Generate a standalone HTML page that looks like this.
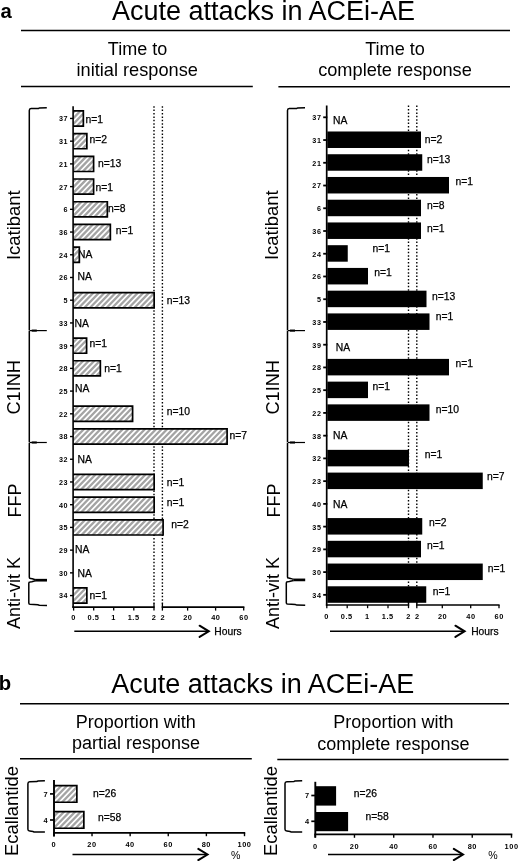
<!DOCTYPE html>
<html lang="en"><head><meta charset="utf-8"><title>Acute attacks in ACEi-AE</title>
<style>html,body{margin:0;padding:0;background:#fff;}body{width:519px;height:861px;overflow:hidden;}svg{display:block;}text{font-family:'Liberation Sans', Arial, sans-serif;fill:#000;}</style>
</head><body>
<svg width="519" height="861" viewBox="0 0 519 861">
<rect width="519" height="861" fill="#fff"/>
<text x="0.4" y="17.7" font-size="20.3" font-weight="bold" text-anchor="start" >a</text>
<text x="263.5" y="19.8" font-size="27" font-weight="normal" text-anchor="middle" >Acute attacks in ACEi-AE</text>
<line x1="21" y1="30.6" x2="510" y2="30.6" stroke="#000" stroke-width="1.5"/>
<text x="137.5" y="54.6" font-size="18" font-weight="normal" text-anchor="middle" >Time to</text>
<text x="137.2" y="76.3" font-size="18.2" font-weight="normal" text-anchor="middle" >initial response</text>
<text x="395" y="54.7" font-size="18.1" font-weight="normal" text-anchor="middle" >Time to</text>
<text x="395" y="76.2" font-size="18.2" font-weight="normal" text-anchor="middle" >complete response</text>
<line x1="21" y1="86.5" x2="252.8" y2="86.5" stroke="#000" stroke-width="1.5"/>
<line x1="278.4" y1="86.8" x2="510" y2="86.8" stroke="#000" stroke-width="1.5"/>
<path d="M46.8,107.7 L39.5,107.9 L38.5,108.4 L31.1,108.60000000000001 Q29.3,108.7 29.3,110.5 L29.3,577.2 Q29.3,578.3000000000001 30.5,578.4000000000001 L32.3,578.7 L35.3,579.7" fill="none" stroke="#000" stroke-width="1.5"/>
<line x1="29.3" y1="330.6" x2="46.8" y2="330.6" stroke="#000" stroke-width="1.2"/>
<line x1="31.7" y1="330.6" x2="36.8" y2="330.6" stroke="#000" stroke-width="2.1"/>
<polygon points="28.400000000000002,329.90000000000003 29.900000000000002,330.6 28.400000000000002,331.3" fill="#fff"/>
<line x1="29.3" y1="442.5" x2="46.8" y2="442.5" stroke="#000" stroke-width="1.2"/>
<line x1="31.7" y1="442.5" x2="36.8" y2="442.5" stroke="#000" stroke-width="2.1"/>
<polygon points="28.400000000000002,441.8 29.900000000000002,442.5 28.400000000000002,443.2" fill="#fff"/>
<line x1="35.1" y1="580.2" x2="47.0" y2="580.2" stroke="#000" stroke-width="2.7"/>
<path d="M35.3,580.8000000000001 L31.8,581.7 L30.0,582.0 Q28.8,582.1 28.8,583.2 L28.8,603.0 Q28.8,604.2 30.0,604.3 L37.8,604.7 L39.3,605.3 L47.0,605.4" fill="none" stroke="#000" stroke-width="1.5"/>
<path d="M305,107.7 L297.7,107.9 L296.7,108.4 L289.3,108.60000000000001 Q287.5,108.7 287.5,110.5 L287.5,576.9 Q287.5,578.0 288.7,578.1 L290.5,578.4 L293.5,579.4" fill="none" stroke="#000" stroke-width="1.5"/>
<line x1="287.5" y1="330.6" x2="305" y2="330.6" stroke="#000" stroke-width="1.2"/>
<line x1="289.9" y1="330.6" x2="295.0" y2="330.6" stroke="#000" stroke-width="2.1"/>
<polygon points="286.6,329.90000000000003 288.1,330.6 286.6,331.3" fill="#fff"/>
<line x1="287.5" y1="442.5" x2="305" y2="442.5" stroke="#000" stroke-width="1.2"/>
<line x1="289.9" y1="442.5" x2="295.0" y2="442.5" stroke="#000" stroke-width="2.1"/>
<polygon points="286.6,441.8 288.1,442.5 286.6,443.2" fill="#fff"/>
<line x1="293.3" y1="579.9" x2="305.2" y2="579.9" stroke="#000" stroke-width="2.7"/>
<path d="M293.5,580.5 L289.3,581.4 L287.5,581.6999999999999 Q286.3,581.8 286.3,582.9 L286.3,602.8 Q286.3,604.0 287.5,604.0999999999999 L295.3,604.5 L296.8,605.0999999999999 L305.2,605.1999999999999" fill="none" stroke="#000" stroke-width="1.5"/>
<text transform="translate(19.8,260.0) rotate(-90)" font-size="18.4" text-anchor="start">Icatibant</text>
<text transform="translate(19.9,414.6) rotate(-90)" font-size="18.2" text-anchor="start">C1INH</text>
<text transform="translate(21.2,517.6) rotate(-90)" font-size="18" text-anchor="start">FFP</text>
<text transform="translate(19.9,629.0) rotate(-90)" font-size="18" text-anchor="start">Anti-vit K</text>
<text transform="translate(278.1,260.0) rotate(-90)" font-size="18.4" text-anchor="start">Icatibant</text>
<text transform="translate(278.8,414.6) rotate(-90)" font-size="18.2" text-anchor="start">C1INH</text>
<text transform="translate(279.5,517.6) rotate(-90)" font-size="18" text-anchor="start">FFP</text>
<text transform="translate(278.8,629.0) rotate(-90)" font-size="18" text-anchor="start">Anti-vit K</text>
<line x1="154" y1="106.2" x2="154" y2="606" stroke="#000" stroke-width="1.4" stroke-dasharray="1.5 1.9"/>
<line x1="162.4" y1="106.2" x2="162.4" y2="606" stroke="#000" stroke-width="1.4" stroke-dasharray="1.5 1.9"/>
<rect x="73.1" y="110.85" width="10.25" height="15.2" fill="#fff" stroke="none" stroke-width="1.5" class="hb"/>
<line x1="70" y1="118.45" x2="73.1" y2="118.45" stroke="#000" stroke-width="1.4"/>
<text x="68.05" y="121.35000000000001" font-size="7.2" font-weight="bold" text-anchor="end" letter-spacing="0.55">37</text>
<rect x="73.1" y="133.57" width="13.75" height="15.2" fill="#fff" stroke="none" stroke-width="1.5" class="hb"/>
<line x1="70" y1="141.17000000000002" x2="73.1" y2="141.17000000000002" stroke="#000" stroke-width="1.4"/>
<text x="68.05" y="144.07000000000002" font-size="7.2" font-weight="bold" text-anchor="end" letter-spacing="0.55">31</text>
<rect x="73.1" y="156.29" width="20.50" height="15.2" fill="#fff" stroke="none" stroke-width="1.5" class="hb"/>
<line x1="70" y1="163.89" x2="73.1" y2="163.89" stroke="#000" stroke-width="1.4"/>
<text x="68.05" y="166.79" font-size="7.2" font-weight="bold" text-anchor="end" letter-spacing="0.55">21</text>
<rect x="73.1" y="179.01" width="20.50" height="15.2" fill="#fff" stroke="none" stroke-width="1.5" class="hb"/>
<line x1="70" y1="186.61" x2="73.1" y2="186.61" stroke="#000" stroke-width="1.4"/>
<text x="68.05" y="189.51000000000002" font-size="7.2" font-weight="bold" text-anchor="end" letter-spacing="0.55">27</text>
<rect x="73.1" y="201.73" width="34.25" height="15.2" fill="#fff" stroke="none" stroke-width="1.5" class="hb"/>
<line x1="70" y1="209.32999999999998" x2="73.1" y2="209.32999999999998" stroke="#000" stroke-width="1.4"/>
<text x="68.05" y="212.23" font-size="7.2" font-weight="bold" text-anchor="end" letter-spacing="0.55">6</text>
<rect x="73.1" y="224.45" width="37.25" height="15.2" fill="#fff" stroke="none" stroke-width="1.5" class="hb"/>
<line x1="70" y1="232.05" x2="73.1" y2="232.05" stroke="#000" stroke-width="1.4"/>
<text x="68.05" y="234.95000000000002" font-size="7.2" font-weight="bold" text-anchor="end" letter-spacing="0.55">36</text>
<rect x="73.1" y="247.17" width="6.25" height="15.2" fill="#fff" stroke="none" stroke-width="1.5" class="hb"/>
<line x1="70" y1="254.76999999999998" x2="73.1" y2="254.76999999999998" stroke="#000" stroke-width="1.4"/>
<text x="68.05" y="257.66999999999996" font-size="7.2" font-weight="bold" text-anchor="end" letter-spacing="0.55">24</text>
<line x1="70" y1="277.49" x2="73.1" y2="277.49" stroke="#000" stroke-width="1.4"/>
<text x="68.05" y="280.39" font-size="7.2" font-weight="bold" text-anchor="end" letter-spacing="0.55">26</text>
<rect x="73.1" y="292.61" width="81.05" height="15.2" fill="#fff" stroke="none" stroke-width="1.5" class="hb"/>
<line x1="70" y1="300.21" x2="73.1" y2="300.21" stroke="#000" stroke-width="1.4"/>
<text x="68.05" y="303.10999999999996" font-size="7.2" font-weight="bold" text-anchor="end" letter-spacing="0.55">5</text>
<line x1="70" y1="322.93" x2="73.1" y2="322.93" stroke="#000" stroke-width="1.4"/>
<text x="68.05" y="325.83" font-size="7.2" font-weight="bold" text-anchor="end" letter-spacing="0.55">33</text>
<rect x="73.1" y="338.05" width="13.50" height="15.2" fill="#fff" stroke="none" stroke-width="1.5" class="hb"/>
<line x1="70" y1="345.65" x2="73.1" y2="345.65" stroke="#000" stroke-width="1.4"/>
<text x="68.05" y="348.54999999999995" font-size="7.2" font-weight="bold" text-anchor="end" letter-spacing="0.55">39</text>
<rect x="73.1" y="360.77" width="27.25" height="15.2" fill="#fff" stroke="none" stroke-width="1.5" class="hb"/>
<line x1="70" y1="368.37" x2="73.1" y2="368.37" stroke="#000" stroke-width="1.4"/>
<text x="68.05" y="371.27" font-size="7.2" font-weight="bold" text-anchor="end" letter-spacing="0.55">28</text>
<line x1="70" y1="391.09" x2="73.1" y2="391.09" stroke="#000" stroke-width="1.4"/>
<text x="68.05" y="393.98999999999995" font-size="7.2" font-weight="bold" text-anchor="end" letter-spacing="0.55">25</text>
<rect x="73.1" y="406.21" width="59.50" height="15.2" fill="#fff" stroke="none" stroke-width="1.5" class="hb"/>
<line x1="70" y1="413.81" x2="73.1" y2="413.81" stroke="#000" stroke-width="1.4"/>
<text x="68.05" y="416.71" font-size="7.2" font-weight="bold" text-anchor="end" letter-spacing="0.55">22</text>
<rect x="73.1" y="428.93" width="154.00" height="15.2" fill="#fff" stroke="none" stroke-width="1.5" class="hb"/>
<line x1="70" y1="436.53" x2="73.1" y2="436.53" stroke="#000" stroke-width="1.4"/>
<text x="68.05" y="439.42999999999995" font-size="7.2" font-weight="bold" text-anchor="end" letter-spacing="0.55">38</text>
<line x1="70" y1="459.24999999999994" x2="73.1" y2="459.24999999999994" stroke="#000" stroke-width="1.4"/>
<text x="68.05" y="462.1499999999999" font-size="7.2" font-weight="bold" text-anchor="end" letter-spacing="0.55">32</text>
<rect x="73.1" y="474.37" width="81.05" height="15.2" fill="#fff" stroke="none" stroke-width="1.5" class="hb"/>
<line x1="70" y1="481.96999999999997" x2="73.1" y2="481.96999999999997" stroke="#000" stroke-width="1.4"/>
<text x="68.05" y="484.86999999999995" font-size="7.2" font-weight="bold" text-anchor="end" letter-spacing="0.55">23</text>
<rect x="73.1" y="497.09" width="81.05" height="15.2" fill="#fff" stroke="none" stroke-width="1.5" class="hb"/>
<line x1="70" y1="504.69" x2="73.1" y2="504.69" stroke="#000" stroke-width="1.4"/>
<text x="68.05" y="507.59" font-size="7.2" font-weight="bold" text-anchor="end" letter-spacing="0.55">40</text>
<rect x="73.1" y="519.81" width="90.00" height="15.2" fill="#fff" stroke="none" stroke-width="1.5" class="hb"/>
<line x1="70" y1="527.41" x2="73.1" y2="527.41" stroke="#000" stroke-width="1.4"/>
<text x="68.05" y="530.31" font-size="7.2" font-weight="bold" text-anchor="end" letter-spacing="0.55">35</text>
<line x1="70" y1="550.13" x2="73.1" y2="550.13" stroke="#000" stroke-width="1.4"/>
<text x="68.05" y="553.03" font-size="7.2" font-weight="bold" text-anchor="end" letter-spacing="0.55">29</text>
<line x1="70" y1="572.85" x2="73.1" y2="572.85" stroke="#000" stroke-width="1.4"/>
<text x="68.05" y="575.75" font-size="7.2" font-weight="bold" text-anchor="end" letter-spacing="0.55">30</text>
<rect x="73.1" y="587.97" width="13.75" height="15.2" fill="#fff" stroke="none" stroke-width="1.5" class="hb"/>
<line x1="70" y1="595.57" x2="73.1" y2="595.57" stroke="#000" stroke-width="1.4"/>
<text x="68.05" y="598.47" font-size="7.2" font-weight="bold" text-anchor="end" letter-spacing="0.55">34</text>
<text x="85.5" y="123.4" font-size="10.35" font-weight="normal" text-anchor="start" stroke="#000" stroke-width="0.25">n=1</text>
<text x="89.5" y="142.9" font-size="10.35" font-weight="normal" text-anchor="start" stroke="#000" stroke-width="0.25">n=2</text>
<text x="98" y="166.65" font-size="10.35" font-weight="normal" text-anchor="start" stroke="#000" stroke-width="0.25">n=13</text>
<text x="95.5" y="190.9" font-size="10.35" font-weight="normal" text-anchor="start" stroke="#000" stroke-width="0.25">n=1</text>
<text x="108" y="211.65" font-size="10.35" font-weight="normal" text-anchor="start" stroke="#000" stroke-width="0.25">n=8</text>
<text x="115.75" y="234.15" font-size="10.35" font-weight="normal" text-anchor="start" stroke="#000" stroke-width="0.25">n=1</text>
<text x="78" y="258.4" font-size="10.35" font-weight="normal" text-anchor="start" stroke="#000" stroke-width="0.25">NA</text>
<text x="77.5" y="280.4" font-size="10.35" font-weight="normal" text-anchor="start" stroke="#000" stroke-width="0.25">NA</text>
<text x="166.75" y="303.65" font-size="10.35" font-weight="normal" text-anchor="start" stroke="#000" stroke-width="0.25">n=13</text>
<text x="74.5" y="327.4" font-size="10.35" font-weight="normal" text-anchor="start" stroke="#000" stroke-width="0.25">NA</text>
<text x="89.5" y="347.4" font-size="10.35" font-weight="normal" text-anchor="start" stroke="#000" stroke-width="0.25">n=1</text>
<text x="104.25" y="371.65" font-size="10.35" font-weight="normal" text-anchor="start" stroke="#000" stroke-width="0.25">n=1</text>
<text x="75" y="391.65" font-size="10.35" font-weight="normal" text-anchor="start" stroke="#000" stroke-width="0.25">NA</text>
<text x="166.75" y="415.4" font-size="10.35" font-weight="normal" text-anchor="start" stroke="#000" stroke-width="0.25">n=10</text>
<text x="229.5" y="439.15" font-size="10.35" font-weight="normal" text-anchor="start" stroke="#000" stroke-width="0.25">n=7</text>
<text x="77.5" y="462.9" font-size="10.35" font-weight="normal" text-anchor="start" stroke="#000" stroke-width="0.25">NA</text>
<text x="166.75" y="485.9" font-size="10.35" font-weight="normal" text-anchor="start" stroke="#000" stroke-width="0.25">n=1</text>
<text x="166.75" y="505.9" font-size="10.35" font-weight="normal" text-anchor="start" stroke="#000" stroke-width="0.25">n=1</text>
<text x="171.25" y="528.4" font-size="10.35" font-weight="normal" text-anchor="start" stroke="#000" stroke-width="0.25">n=2</text>
<text x="75" y="553.4" font-size="10.35" font-weight="normal" text-anchor="start" stroke="#000" stroke-width="0.25">NA</text>
<text x="77.5" y="576.65" font-size="10.35" font-weight="normal" text-anchor="start" stroke="#000" stroke-width="0.25">NA</text>
<text x="89.5" y="598.65" font-size="10.35" font-weight="normal" text-anchor="start" stroke="#000" stroke-width="0.25">n=1</text>
<line x1="72.25" y1="607.2" x2="154.6" y2="607.2" stroke="#000" stroke-width="1.7"/>
<line x1="161.7" y1="607.2" x2="244.4" y2="607.2" stroke="#000" stroke-width="1.7"/>
<line x1="73.6" y1="607.2" x2="73.6" y2="610.6" stroke="#000" stroke-width="1.3"/>
<line x1="93.7" y1="607.2" x2="93.7" y2="610.6" stroke="#000" stroke-width="1.3"/>
<line x1="113.7" y1="607.2" x2="113.7" y2="610.6" stroke="#000" stroke-width="1.3"/>
<line x1="133.8" y1="607.2" x2="133.8" y2="610.6" stroke="#000" stroke-width="1.3"/>
<line x1="154" y1="603.5" x2="154" y2="610.6" stroke="#000" stroke-width="1.3"/>
<line x1="162.4" y1="603.5" x2="162.4" y2="610.6" stroke="#000" stroke-width="1.3"/>
<line x1="187.6" y1="607.2" x2="187.6" y2="610.6" stroke="#000" stroke-width="1.3"/>
<line x1="215.6" y1="607.2" x2="215.6" y2="610.6" stroke="#000" stroke-width="1.3"/>
<line x1="243.7" y1="607.2" x2="243.7" y2="610.6" stroke="#000" stroke-width="1.3"/>
<text x="73.47500000000001" y="619.9" font-size="7.4" font-weight="bold" text-anchor="middle" letter-spacing="0.55">0</text>
<text x="93.575" y="619.9" font-size="7.4" font-weight="bold" text-anchor="middle" letter-spacing="0.55">0.5</text>
<text x="113.47500000000001" y="619.9" font-size="7.4" font-weight="bold" text-anchor="middle" letter-spacing="0.55">1</text>
<text x="133.675" y="619.9" font-size="7.4" font-weight="bold" text-anchor="middle" letter-spacing="0.55">1.5</text>
<text x="154.07500000000002" y="619.9" font-size="7.4" font-weight="bold" text-anchor="middle" letter-spacing="0.55">2</text>
<text x="162.875" y="619.9" font-size="7.4" font-weight="bold" text-anchor="middle" letter-spacing="0.55">2</text>
<text x="187.875" y="619.9" font-size="7.4" font-weight="bold" text-anchor="middle" letter-spacing="0.55">20</text>
<text x="215.875" y="619.9" font-size="7.4" font-weight="bold" text-anchor="middle" letter-spacing="0.55">40</text>
<text x="243.975" y="619.9" font-size="7.4" font-weight="bold" text-anchor="middle" letter-spacing="0.55">60</text>
<line x1="74.3" y1="631.3" x2="208.1" y2="631.3" stroke="#000" stroke-width="1.6"/>
<polyline points="199.6,625.6999999999999 208.79999999999998,631.3 199.6,636.9" fill="none" stroke="#000" stroke-width="2" stroke-linejoin="miter" stroke-linecap="round"/>
<text x="214.3" y="635" font-size="10.3" font-weight="normal" text-anchor="start" stroke="#000" stroke-width="0.25">Hours</text>
<line x1="408.5" y1="105.6" x2="408.5" y2="604" stroke="#000" stroke-width="1.4" stroke-dasharray="1.5 1.9"/>
<line x1="416.8" y1="105.6" x2="416.8" y2="604" stroke="#000" stroke-width="1.4" stroke-dasharray="1.5 1.9"/>
<line x1="323.2" y1="117.3" x2="327.3" y2="117.3" stroke="#000" stroke-width="1.8"/>
<text x="321.45" y="120.2" font-size="7.2" font-weight="bold" text-anchor="end" letter-spacing="0.55">37</text>
<rect x="327.3" y="131.49" width="93.70" height="16.5" fill="#000"/>
<line x1="323.2" y1="140.04000000000002" x2="327.3" y2="140.04000000000002" stroke="#000" stroke-width="1.8"/>
<text x="321.45" y="142.94000000000003" font-size="7.2" font-weight="bold" text-anchor="end" letter-spacing="0.55">31</text>
<rect x="327.3" y="154.23" width="94.95" height="16.5" fill="#000"/>
<line x1="323.2" y1="162.78" x2="327.3" y2="162.78" stroke="#000" stroke-width="1.8"/>
<text x="321.45" y="165.68" font-size="7.2" font-weight="bold" text-anchor="end" letter-spacing="0.55">21</text>
<rect x="327.3" y="176.97" width="121.70" height="16.5" fill="#000"/>
<line x1="323.2" y1="185.52" x2="327.3" y2="185.52" stroke="#000" stroke-width="1.8"/>
<text x="321.45" y="188.42000000000002" font-size="7.2" font-weight="bold" text-anchor="end" letter-spacing="0.55">27</text>
<rect x="327.3" y="199.71" width="93.70" height="16.5" fill="#000"/>
<line x1="323.2" y1="208.26" x2="327.3" y2="208.26" stroke="#000" stroke-width="1.8"/>
<text x="321.45" y="211.16" font-size="7.2" font-weight="bold" text-anchor="end" letter-spacing="0.55">6</text>
<rect x="327.3" y="222.45" width="93.70" height="16.5" fill="#000"/>
<line x1="323.2" y1="231.0" x2="327.3" y2="231.0" stroke="#000" stroke-width="1.8"/>
<text x="321.45" y="233.9" font-size="7.2" font-weight="bold" text-anchor="end" letter-spacing="0.55">36</text>
<rect x="327.3" y="245.19" width="20.45" height="16.5" fill="#000"/>
<line x1="323.2" y1="253.74" x2="327.3" y2="253.74" stroke="#000" stroke-width="1.8"/>
<text x="321.45" y="256.64" font-size="7.2" font-weight="bold" text-anchor="end" letter-spacing="0.55">24</text>
<rect x="327.3" y="267.93" width="40.70" height="16.5" fill="#000"/>
<line x1="323.2" y1="276.47999999999996" x2="327.3" y2="276.47999999999996" stroke="#000" stroke-width="1.8"/>
<text x="321.45" y="279.37999999999994" font-size="7.2" font-weight="bold" text-anchor="end" letter-spacing="0.55">26</text>
<rect x="327.3" y="290.67" width="99.20" height="16.5" fill="#000"/>
<line x1="323.2" y1="299.21999999999997" x2="327.3" y2="299.21999999999997" stroke="#000" stroke-width="1.8"/>
<text x="321.45" y="302.11999999999995" font-size="7.2" font-weight="bold" text-anchor="end" letter-spacing="0.55">5</text>
<rect x="327.3" y="313.41" width="102.20" height="16.5" fill="#000"/>
<line x1="323.2" y1="321.96" x2="327.3" y2="321.96" stroke="#000" stroke-width="1.8"/>
<text x="321.45" y="324.85999999999996" font-size="7.2" font-weight="bold" text-anchor="end" letter-spacing="0.55">33</text>
<line x1="323.2" y1="344.7" x2="327.3" y2="344.7" stroke="#000" stroke-width="1.8"/>
<text x="321.45" y="347.59999999999997" font-size="7.2" font-weight="bold" text-anchor="end" letter-spacing="0.55">39</text>
<rect x="327.3" y="358.89" width="121.70" height="16.5" fill="#000"/>
<line x1="323.2" y1="367.44" x2="327.3" y2="367.44" stroke="#000" stroke-width="1.8"/>
<text x="321.45" y="370.34" font-size="7.2" font-weight="bold" text-anchor="end" letter-spacing="0.55">28</text>
<rect x="327.3" y="381.63" width="40.70" height="16.5" fill="#000"/>
<line x1="323.2" y1="390.18" x2="327.3" y2="390.18" stroke="#000" stroke-width="1.8"/>
<text x="321.45" y="393.08" font-size="7.2" font-weight="bold" text-anchor="end" letter-spacing="0.55">25</text>
<rect x="327.3" y="404.37" width="102.20" height="16.5" fill="#000"/>
<line x1="323.2" y1="412.92" x2="327.3" y2="412.92" stroke="#000" stroke-width="1.8"/>
<text x="321.45" y="415.82" font-size="7.2" font-weight="bold" text-anchor="end" letter-spacing="0.55">22</text>
<line x1="323.2" y1="435.65999999999997" x2="327.3" y2="435.65999999999997" stroke="#000" stroke-width="1.8"/>
<text x="321.45" y="438.55999999999995" font-size="7.2" font-weight="bold" text-anchor="end" letter-spacing="0.55">38</text>
<rect x="327.3" y="449.85" width="81.70" height="16.5" fill="#000"/>
<line x1="323.2" y1="458.4" x2="327.3" y2="458.4" stroke="#000" stroke-width="1.8"/>
<text x="321.45" y="461.29999999999995" font-size="7.2" font-weight="bold" text-anchor="end" letter-spacing="0.55">32</text>
<rect x="327.3" y="472.59" width="155.45" height="16.5" fill="#000"/>
<line x1="323.2" y1="481.14" x2="327.3" y2="481.14" stroke="#000" stroke-width="1.8"/>
<text x="321.45" y="484.03999999999996" font-size="7.2" font-weight="bold" text-anchor="end" letter-spacing="0.55">23</text>
<line x1="323.2" y1="503.88" x2="327.3" y2="503.88" stroke="#000" stroke-width="1.8"/>
<text x="321.45" y="506.78" font-size="7.2" font-weight="bold" text-anchor="end" letter-spacing="0.55">40</text>
<rect x="327.3" y="518.07" width="94.95" height="16.5" fill="#000"/>
<line x1="323.2" y1="526.6199999999999" x2="327.3" y2="526.6199999999999" stroke="#000" stroke-width="1.8"/>
<text x="321.45" y="529.5199999999999" font-size="7.2" font-weight="bold" text-anchor="end" letter-spacing="0.55">35</text>
<rect x="327.3" y="540.81" width="93.70" height="16.5" fill="#000"/>
<line x1="323.2" y1="549.3599999999999" x2="327.3" y2="549.3599999999999" stroke="#000" stroke-width="1.8"/>
<text x="321.45" y="552.2599999999999" font-size="7.2" font-weight="bold" text-anchor="end" letter-spacing="0.55">29</text>
<rect x="327.3" y="563.55" width="155.45" height="16.5" fill="#000"/>
<line x1="323.2" y1="572.0999999999999" x2="327.3" y2="572.0999999999999" stroke="#000" stroke-width="1.8"/>
<text x="321.45" y="574.9999999999999" font-size="7.2" font-weight="bold" text-anchor="end" letter-spacing="0.55">30</text>
<rect x="327.3" y="586.29" width="98.95" height="16.5" fill="#000"/>
<line x1="323.2" y1="594.8399999999999" x2="327.3" y2="594.8399999999999" stroke="#000" stroke-width="1.8"/>
<text x="321.45" y="597.7399999999999" font-size="7.2" font-weight="bold" text-anchor="end" letter-spacing="0.55">34</text>
<text x="333" y="123.65" font-size="10.35" font-weight="normal" text-anchor="start" stroke="#000" stroke-width="0.25">NA</text>
<text x="424.75" y="142.9" font-size="10.35" font-weight="normal" text-anchor="start" stroke="#000" stroke-width="0.25">n=2</text>
<text x="427" y="163.4" font-size="10.35" font-weight="normal" text-anchor="start" stroke="#000" stroke-width="0.25">n=13</text>
<text x="455.5" y="184.9" font-size="10.35" font-weight="normal" text-anchor="start" stroke="#000" stroke-width="0.25">n=1</text>
<text x="427" y="208.65" font-size="10.35" font-weight="normal" text-anchor="start" stroke="#000" stroke-width="0.25">n=8</text>
<text x="427" y="232.4" font-size="10.35" font-weight="normal" text-anchor="start" stroke="#000" stroke-width="0.25">n=1</text>
<text x="372.5" y="252.15" font-size="10.35" font-weight="normal" text-anchor="start" stroke="#000" stroke-width="0.25">n=1</text>
<text x="374.25" y="276.15" font-size="10.35" font-weight="normal" text-anchor="start" stroke="#000" stroke-width="0.25">n=1</text>
<text x="432" y="300.4" font-size="10.35" font-weight="normal" text-anchor="start" stroke="#000" stroke-width="0.25">n=13</text>
<text x="435.75" y="320.4" font-size="10.35" font-weight="normal" text-anchor="start" stroke="#000" stroke-width="0.25">n=1</text>
<text x="335.75" y="350.9" font-size="10.35" font-weight="normal" text-anchor="start" stroke="#000" stroke-width="0.25">NA</text>
<text x="455.5" y="367.4" font-size="10.35" font-weight="normal" text-anchor="start" stroke="#000" stroke-width="0.25">n=1</text>
<text x="372.5" y="390.4" font-size="10.35" font-weight="normal" text-anchor="start" stroke="#000" stroke-width="0.25">n=1</text>
<text x="435.75" y="412.9" font-size="10.35" font-weight="normal" text-anchor="start" stroke="#000" stroke-width="0.25">n=10</text>
<text x="333" y="439.15" font-size="10.35" font-weight="normal" text-anchor="start" stroke="#000" stroke-width="0.25">NA</text>
<text x="424.75" y="457.9" font-size="10.35" font-weight="normal" text-anchor="start" stroke="#000" stroke-width="0.25">n=1</text>
<text x="487" y="479.65" font-size="10.35" font-weight="normal" text-anchor="start" stroke="#000" stroke-width="0.25">n=7</text>
<text x="333" y="508.4" font-size="10.35" font-weight="normal" text-anchor="start" stroke="#000" stroke-width="0.25">NA</text>
<text x="429" y="526.15" font-size="10.35" font-weight="normal" text-anchor="start" stroke="#000" stroke-width="0.25">n=2</text>
<text x="427" y="549.15" font-size="10.35" font-weight="normal" text-anchor="start" stroke="#000" stroke-width="0.25">n=1</text>
<text x="487.75" y="571.65" font-size="10.35" font-weight="normal" text-anchor="start" stroke="#000" stroke-width="0.25">n=1</text>
<text x="432.75" y="594.9" font-size="10.35" font-weight="normal" text-anchor="start" stroke="#000" stroke-width="0.25">n=1</text>
<line x1="326.7" y1="105.6" x2="326.7" y2="605.8" stroke="#000" stroke-width="1.7"/>
<line x1="325.90000000000003" y1="605.0" x2="409.2" y2="605.0" stroke="#000" stroke-width="1.7"/>
<line x1="416.1" y1="605.0" x2="499.6" y2="605.0" stroke="#000" stroke-width="1.7"/>
<line x1="326.8" y1="605.0" x2="326.8" y2="608.2" stroke="#000" stroke-width="1.3"/>
<line x1="347.2" y1="605.0" x2="347.2" y2="608.2" stroke="#000" stroke-width="1.3"/>
<line x1="367.6" y1="605.0" x2="367.6" y2="608.2" stroke="#000" stroke-width="1.3"/>
<line x1="388" y1="605.0" x2="388" y2="608.2" stroke="#000" stroke-width="1.3"/>
<line x1="408.5" y1="601.5" x2="408.5" y2="608.2" stroke="#000" stroke-width="1.3"/>
<line x1="416.8" y1="601.5" x2="416.8" y2="608.2" stroke="#000" stroke-width="1.3"/>
<line x1="442.3" y1="605.0" x2="442.3" y2="608.2" stroke="#000" stroke-width="1.3"/>
<line x1="470.7" y1="605.0" x2="470.7" y2="608.2" stroke="#000" stroke-width="1.3"/>
<line x1="499" y1="605.0" x2="499" y2="608.2" stroke="#000" stroke-width="1.3"/>
<text x="326.575" y="619.2" font-size="7.4" font-weight="bold" text-anchor="middle" letter-spacing="0.55">0</text>
<text x="346.775" y="619.2" font-size="7.4" font-weight="bold" text-anchor="middle" letter-spacing="0.55">0.5</text>
<text x="367.275" y="619.2" font-size="7.4" font-weight="bold" text-anchor="middle" letter-spacing="0.55">1</text>
<text x="387.775" y="619.2" font-size="7.4" font-weight="bold" text-anchor="middle" letter-spacing="0.55">1.5</text>
<text x="408.575" y="619.2" font-size="7.4" font-weight="bold" text-anchor="middle" letter-spacing="0.55">2</text>
<text x="417.275" y="619.2" font-size="7.4" font-weight="bold" text-anchor="middle" letter-spacing="0.55">2</text>
<text x="442.575" y="619.2" font-size="7.4" font-weight="bold" text-anchor="middle" letter-spacing="0.55">20</text>
<text x="470.97499999999997" y="619.2" font-size="7.4" font-weight="bold" text-anchor="middle" letter-spacing="0.55">40</text>
<text x="499.275" y="619.2" font-size="7.4" font-weight="bold" text-anchor="middle" letter-spacing="0.55">60</text>
<line x1="330" y1="631.3" x2="463.9" y2="631.3" stroke="#000" stroke-width="1.6"/>
<polyline points="455.4,625.6999999999999 464.59999999999997,631.3 455.4,636.9" fill="none" stroke="#000" stroke-width="2" stroke-linejoin="miter" stroke-linecap="round"/>
<text x="471.2" y="634.6" font-size="10.3" font-weight="normal" text-anchor="start" stroke="#000" stroke-width="0.25">Hours</text>
<text x="-1.2" y="690.2" font-size="20.3" font-weight="bold" text-anchor="start" >b</text>
<text x="262.8" y="692.6" font-size="27" font-weight="normal" text-anchor="middle" >Acute attacks in ACEi-AE</text>
<line x1="20" y1="703.8" x2="509" y2="703.8" stroke="#000" stroke-width="1.5"/>
<text x="135.7" y="727.7" font-size="18" font-weight="normal" text-anchor="middle" >Proportion with</text>
<text x="136" y="749.4" font-size="18" font-weight="normal" text-anchor="middle" >partial response</text>
<text x="393.4" y="728.4" font-size="18" font-weight="normal" text-anchor="middle" >Proportion with</text>
<text x="393.4" y="750" font-size="18" font-weight="normal" text-anchor="middle" >complete response</text>
<line x1="20" y1="758.8" x2="251.8" y2="758.8" stroke="#000" stroke-width="1.5"/>
<line x1="277.3" y1="759.6" x2="508.6" y2="759.6" stroke="#000" stroke-width="1.5"/>
<text transform="translate(18.3,856.0) rotate(-90)" font-size="18.4" text-anchor="start">Ecallantide</text>
<text transform="translate(276.5,856.0) rotate(-90)" font-size="18.4" text-anchor="start">Ecallantide</text>
<path d="M44.9,780.85 L37.9,781.0500000000001 L36.9,781.5500000000001 L29.7,781.85 Q27.9,781.95 27.9,783.75 L27.9,829.2 Q27.9,830.9 29.7,831.0 L32.9,831.4 L33.9,832.0 L44.9,832.1" fill="none" stroke="#000" stroke-width="1.5"/>
<path d="M302.2,780.7 L295,780.9000000000001 L294,781.4000000000001 L286.8,781.7 Q285,781.8000000000001 285,783.6 L285,829.2 Q285,830.9 286.8,831.0 L290,831.4 L291,832.0 L302.2,832.1" fill="none" stroke="#000" stroke-width="1.5"/>
<rect x="54" y="785.65" width="22.85" height="16.60" fill="#fff" stroke="none" stroke-width="1.5" class="hb"/>
<rect x="54" y="811.55" width="29.85" height="16.70" fill="#fff" stroke="none" stroke-width="1.5" class="hb"/>
<line x1="50" y1="793.9" x2="54" y2="793.9" stroke="#000" stroke-width="1.7"/>
<line x1="50" y1="820.0" x2="54" y2="820.0" stroke="#000" stroke-width="1.7"/>
<text x="47.7" y="796.75" font-size="7.4" font-weight="bold" text-anchor="end">7</text>
<text x="47.7" y="822.85" font-size="7.4" font-weight="bold" text-anchor="end">4</text>
<line x1="53.1" y1="832.8" x2="245.2" y2="832.8" stroke="#000" stroke-width="1.8"/>
<line x1="53.9" y1="832.8" x2="53.9" y2="836.2" stroke="#000" stroke-width="1.4"/>
<text x="53.875" y="847.2" font-size="7.4" font-weight="bold" text-anchor="middle" letter-spacing="0.55">0</text>
<line x1="92.02" y1="832.8" x2="92.02" y2="836.2" stroke="#000" stroke-width="1.4"/>
<text x="91.995" y="847.2" font-size="7.4" font-weight="bold" text-anchor="middle" letter-spacing="0.55">20</text>
<line x1="130.14" y1="832.8" x2="130.14" y2="836.2" stroke="#000" stroke-width="1.4"/>
<text x="130.11499999999998" y="847.2" font-size="7.4" font-weight="bold" text-anchor="middle" letter-spacing="0.55">40</text>
<line x1="168.26" y1="832.8" x2="168.26" y2="836.2" stroke="#000" stroke-width="1.4"/>
<text x="168.23499999999999" y="847.2" font-size="7.4" font-weight="bold" text-anchor="middle" letter-spacing="0.55">60</text>
<line x1="206.38" y1="832.8" x2="206.38" y2="836.2" stroke="#000" stroke-width="1.4"/>
<text x="206.355" y="847.2" font-size="7.4" font-weight="bold" text-anchor="middle" letter-spacing="0.55">80</text>
<line x1="244.5" y1="832.8" x2="244.5" y2="836.2" stroke="#000" stroke-width="1.4"/>
<text x="244.475" y="847.2" font-size="7.4" font-weight="bold" text-anchor="middle" letter-spacing="0.55">100</text>
<text x="93" y="796.7" font-size="10.3" font-weight="normal" text-anchor="start" stroke="#000" stroke-width="0.25">n=26</text>
<text x="98" y="820.6" font-size="10.3" font-weight="normal" text-anchor="start" stroke="#000" stroke-width="0.25">n=58</text>
<line x1="72.5" y1="854.5" x2="206.8" y2="854.5" stroke="#000" stroke-width="1.6"/>
<polyline points="198.3,848.9 207.5,854.5 198.3,860.1" fill="none" stroke="#000" stroke-width="2" stroke-linejoin="miter" stroke-linecap="round"/>
<text x="231" y="858.6" font-size="10.6" font-weight="normal" text-anchor="start" >%</text>
<rect x="315.3" y="786.2" width="20.80" height="19.399999999999977" fill="#000"/>
<rect x="315.3" y="812" width="32.80" height="19.200000000000045" fill="#000"/>
<line x1="311.3" y1="795.5" x2="315.3" y2="795.5" stroke="#000" stroke-width="1.7"/>
<line x1="311.3" y1="821.3" x2="315.3" y2="821.3" stroke="#000" stroke-width="1.7"/>
<text x="309" y="798.35" font-size="7.4" font-weight="bold" text-anchor="end">7</text>
<text x="309" y="824.25" font-size="7.4" font-weight="bold" text-anchor="end">4</text>
<line x1="315.3" y1="781.8" x2="315.3" y2="837.6" stroke="#000" stroke-width="1.9"/>
<line x1="314.40000000000003" y1="834.4" x2="512.3" y2="834.4" stroke="#000" stroke-width="1.9"/>
<line x1="315.2" y1="834.4" x2="315.2" y2="837.8" stroke="#000" stroke-width="1.4"/>
<text x="315.275" y="848.8" font-size="7.4" font-weight="bold" text-anchor="middle" letter-spacing="0.55">0</text>
<line x1="354.46" y1="834.4" x2="354.46" y2="837.8" stroke="#000" stroke-width="1.4"/>
<text x="354.53499999999997" y="848.8" font-size="7.4" font-weight="bold" text-anchor="middle" letter-spacing="0.55">20</text>
<line x1="393.72" y1="834.4" x2="393.72" y2="837.8" stroke="#000" stroke-width="1.4"/>
<text x="393.795" y="848.8" font-size="7.4" font-weight="bold" text-anchor="middle" letter-spacing="0.55">40</text>
<line x1="432.98" y1="834.4" x2="432.98" y2="837.8" stroke="#000" stroke-width="1.4"/>
<text x="433.055" y="848.8" font-size="7.4" font-weight="bold" text-anchor="middle" letter-spacing="0.55">60</text>
<line x1="472.24" y1="834.4" x2="472.24" y2="837.8" stroke="#000" stroke-width="1.4"/>
<text x="472.315" y="848.8" font-size="7.4" font-weight="bold" text-anchor="middle" letter-spacing="0.55">80</text>
<line x1="511.5" y1="834.4" x2="511.5" y2="837.8" stroke="#000" stroke-width="1.4"/>
<text x="511.575" y="848.8" font-size="7.4" font-weight="bold" text-anchor="middle" letter-spacing="0.55">100</text>
<text x="353.75" y="796.7" font-size="10.3" font-weight="normal" text-anchor="start" stroke="#000" stroke-width="0.25">n=26</text>
<text x="365.5" y="820.4" font-size="10.3" font-weight="normal" text-anchor="start" stroke="#000" stroke-width="0.25">n=58</text>
<line x1="328" y1="854.5" x2="462.3" y2="854.5" stroke="#000" stroke-width="1.6"/>
<polyline points="453.8,848.9 463.0,854.5 453.8,860.1" fill="none" stroke="#000" stroke-width="2" stroke-linejoin="miter" stroke-linecap="round"/>
<text x="488.3" y="858.6" font-size="10.6" font-weight="normal" text-anchor="start" >%</text>
<clipPath id="hc"><rect x="73.1" y="110.85" width="10.25" height="15.2"/><rect x="73.1" y="133.57" width="13.75" height="15.2"/><rect x="73.1" y="156.29" width="20.5" height="15.2"/><rect x="73.1" y="179.01" width="20.5" height="15.2"/><rect x="73.1" y="201.73" width="34.25" height="15.2"/><rect x="73.1" y="224.45" width="37.25" height="15.2"/><rect x="73.1" y="247.17" width="6.25" height="15.2"/><rect x="73.1" y="292.61" width="81.05" height="15.2"/><rect x="73.1" y="338.05" width="13.5" height="15.2"/><rect x="73.1" y="360.77" width="27.25" height="15.2"/><rect x="73.1" y="406.21" width="59.5" height="15.2"/><rect x="73.1" y="428.93" width="154.0" height="15.2"/><rect x="73.1" y="474.37" width="81.05" height="15.2"/><rect x="73.1" y="497.09" width="81.05" height="15.2"/><rect x="73.1" y="519.81" width="90.0" height="15.2"/><rect x="73.1" y="587.97" width="13.75" height="15.2"/><rect x="54.0" y="785.65" width="22.85" height="16.6"/><rect x="54.0" y="811.55" width="29.85" height="16.7"/></clipPath>
<g clip-path="url(#hc)"><path d="M-673.65,840.0L40.96,100.0M-668.10,840.0L46.51,100.0M-662.55,840.0L52.06,100.0M-657.00,840.0L57.61,100.0M-651.45,840.0L63.16,100.0M-645.90,840.0L68.71,100.0M-640.35,840.0L74.26,100.0M-634.80,840.0L79.81,100.0M-629.25,840.0L85.36,100.0M-623.70,840.0L90.91,100.0M-618.15,840.0L96.46,100.0M-612.60,840.0L102.01,100.0M-607.05,840.0L107.56,100.0M-601.50,840.0L113.11,100.0M-595.95,840.0L118.66,100.0M-590.40,840.0L124.21,100.0M-584.85,840.0L129.76,100.0M-579.30,840.0L135.31,100.0M-573.75,840.0L140.86,100.0M-568.20,840.0L146.41,100.0M-562.65,840.0L151.96,100.0M-557.10,840.0L157.51,100.0M-551.55,840.0L163.06,100.0M-546.00,840.0L168.61,100.0M-540.45,840.0L174.16,100.0M-534.90,840.0L179.71,100.0M-529.35,840.0L185.26,100.0M-523.80,840.0L190.81,100.0M-518.25,840.0L196.36,100.0M-512.70,840.0L201.91,100.0M-507.15,840.0L207.46,100.0M-501.60,840.0L213.01,100.0M-496.05,840.0L218.56,100.0M-490.50,840.0L224.11,100.0M-484.95,840.0L229.66,100.0M-479.40,840.0L235.21,100.0M-473.85,840.0L240.76,100.0M-468.30,840.0L246.31,100.0M-462.75,840.0L251.86,100.0M-457.20,840.0L257.41,100.0M-451.65,840.0L262.96,100.0M-446.10,840.0L268.51,100.0M-440.55,840.0L274.06,100.0M-435.00,840.0L279.61,100.0M-429.45,840.0L285.16,100.0M-423.90,840.0L290.71,100.0M-418.35,840.0L296.26,100.0M-412.80,840.0L301.81,100.0M-407.25,840.0L307.36,100.0M-401.70,840.0L312.91,100.0M-396.15,840.0L318.46,100.0M-390.60,840.0L324.01,100.0M-385.05,840.0L329.56,100.0M-379.50,840.0L335.11,100.0M-373.95,840.0L340.66,100.0M-368.40,840.0L346.21,100.0M-362.85,840.0L351.76,100.0M-357.30,840.0L357.31,100.0M-351.75,840.0L362.86,100.0M-346.20,840.0L368.41,100.0M-340.65,840.0L373.96,100.0M-335.10,840.0L379.51,100.0M-329.55,840.0L385.06,100.0M-324.00,840.0L390.61,100.0M-318.45,840.0L396.16,100.0M-312.90,840.0L401.71,100.0M-307.35,840.0L407.26,100.0M-301.80,840.0L412.81,100.0M-296.25,840.0L418.36,100.0M-290.70,840.0L423.91,100.0M-285.15,840.0L429.46,100.0M-279.60,840.0L435.01,100.0M-274.05,840.0L440.56,100.0M-268.50,840.0L446.11,100.0M-262.95,840.0L451.66,100.0M-257.40,840.0L457.21,100.0M-251.85,840.0L462.76,100.0M-246.30,840.0L468.31,100.0M-240.75,840.0L473.86,100.0M-235.20,840.0L479.41,100.0M-229.65,840.0L484.96,100.0M-224.10,840.0L490.51,100.0M-218.55,840.0L496.06,100.0M-213.00,840.0L501.61,100.0M-207.45,840.0L507.16,100.0M-201.90,840.0L512.71,100.0M-196.35,840.0L518.26,100.0M-190.80,840.0L523.81,100.0M-185.25,840.0L529.36,100.0M-179.70,840.0L534.91,100.0M-174.15,840.0L540.46,100.0M-168.60,840.0L546.01,100.0M-163.05,840.0L551.56,100.0M-157.50,840.0L557.11,100.0M-151.95,840.0L562.66,100.0M-146.40,840.0L568.21,100.0M-140.85,840.0L573.76,100.0M-135.30,840.0L579.31,100.0M-129.75,840.0L584.86,100.0M-124.20,840.0L590.41,100.0M-118.65,840.0L595.96,100.0M-113.10,840.0L601.51,100.0M-107.55,840.0L607.06,100.0M-102.00,840.0L612.61,100.0M-96.45,840.0L618.16,100.0M-90.90,840.0L623.71,100.0M-85.35,840.0L629.26,100.0M-79.80,840.0L634.81,100.0M-74.25,840.0L640.36,100.0M-68.70,840.0L645.91,100.0M-63.15,840.0L651.46,100.0M-57.60,840.0L657.01,100.0M-52.05,840.0L662.56,100.0M-46.50,840.0L668.11,100.0M-40.95,840.0L673.66,100.0M-35.40,840.0L679.21,100.0M-29.85,840.0L684.76,100.0M-24.30,840.0L690.31,100.0M-18.75,840.0L695.86,100.0M-13.20,840.0L701.41,100.0M-7.65,840.0L706.96,100.0M-2.10,840.0L712.51,100.0M3.45,840.0L718.06,100.0M9.00,840.0L723.61,100.0M14.55,840.0L729.16,100.0M20.10,840.0L734.71,100.0M25.65,840.0L740.26,100.0M31.20,840.0L745.81,100.0M36.75,840.0L751.36,100.0M42.30,840.0L756.91,100.0M47.85,840.0L762.46,100.0M53.40,840.0L768.01,100.0M58.95,840.0L773.56,100.0M64.50,840.0L779.11,100.0M70.05,840.0L784.66,100.0M75.60,840.0L790.21,100.0M81.15,840.0L795.76,100.0M86.70,840.0L801.31,100.0M92.25,840.0L806.86,100.0M97.80,840.0L812.41,100.0M103.35,840.0L817.96,100.0M108.90,840.0L823.51,100.0M114.45,840.0L829.06,100.0M120.00,840.0L834.61,100.0M125.55,840.0L840.16,100.0M131.10,840.0L845.71,100.0M136.65,840.0L851.26,100.0M142.20,840.0L856.81,100.0M147.75,840.0L862.36,100.0M153.30,840.0L867.91,100.0M158.85,840.0L873.46,100.0M164.40,840.0L879.01,100.0M169.95,840.0L884.56,100.0M175.50,840.0L890.11,100.0M181.05,840.0L895.66,100.0M186.60,840.0L901.21,100.0M192.15,840.0L906.76,100.0M197.70,840.0L912.31,100.0M203.25,840.0L917.86,100.0M208.80,840.0L923.41,100.0M214.35,840.0L928.96,100.0M219.90,840.0L934.51,100.0M225.45,840.0L940.06,100.0M231.00,840.0L945.61,100.0M236.55,840.0L951.16,100.0M242.10,840.0L956.71,100.0M247.65,840.0L962.26,100.0M253.20,840.0L967.81,100.0M258.75,840.0L973.36,100.0" stroke="#a4a4a4" stroke-width="2.3" fill="none"/></g>
<path d="M73.1,110.85H83.35V126.05H73.1" fill="none" stroke="#000" stroke-width="1.7"/>
<path d="M73.1,133.57H86.85V148.77H73.1" fill="none" stroke="#000" stroke-width="1.7"/>
<path d="M73.1,156.29H93.60V171.49H73.1" fill="none" stroke="#000" stroke-width="1.7"/>
<path d="M73.1,179.01H93.60V194.21H73.1" fill="none" stroke="#000" stroke-width="1.7"/>
<path d="M73.1,201.73H107.35V216.93H73.1" fill="none" stroke="#000" stroke-width="1.7"/>
<path d="M73.1,224.45H110.35V239.65H73.1" fill="none" stroke="#000" stroke-width="1.7"/>
<path d="M73.1,247.17H79.35V262.37H73.1" fill="none" stroke="#000" stroke-width="1.7"/>
<path d="M73.1,292.61H154.15V307.81H73.1" fill="none" stroke="#000" stroke-width="1.7"/>
<path d="M73.1,338.05H86.60V353.25H73.1" fill="none" stroke="#000" stroke-width="1.7"/>
<path d="M73.1,360.77H100.35V375.97H73.1" fill="none" stroke="#000" stroke-width="1.7"/>
<path d="M73.1,406.21H132.60V421.41H73.1" fill="none" stroke="#000" stroke-width="1.7"/>
<path d="M73.1,428.93H227.10V444.13H73.1" fill="none" stroke="#000" stroke-width="1.7"/>
<path d="M73.1,474.37H154.15V489.57H73.1" fill="none" stroke="#000" stroke-width="1.7"/>
<path d="M73.1,497.09H154.15V512.29H73.1" fill="none" stroke="#000" stroke-width="1.7"/>
<path d="M73.1,519.81H163.10V535.01H73.1" fill="none" stroke="#000" stroke-width="1.7"/>
<path d="M73.1,587.97H86.85V603.17H73.1" fill="none" stroke="#000" stroke-width="1.7"/>
<path d="M54.0,785.65H76.85V802.25H54.0" fill="none" stroke="#000" stroke-width="1.7"/>
<path d="M54.0,811.55H83.85V828.25H54.0" fill="none" stroke="#000" stroke-width="1.7"/>
<line x1="73.1" y1="106.2" x2="73.1" y2="607.5" stroke="#000" stroke-width="1.6"/>
<line x1="54" y1="779.9" x2="54" y2="836.6" stroke="#000" stroke-width="1.9"/>
</svg></body></html>
